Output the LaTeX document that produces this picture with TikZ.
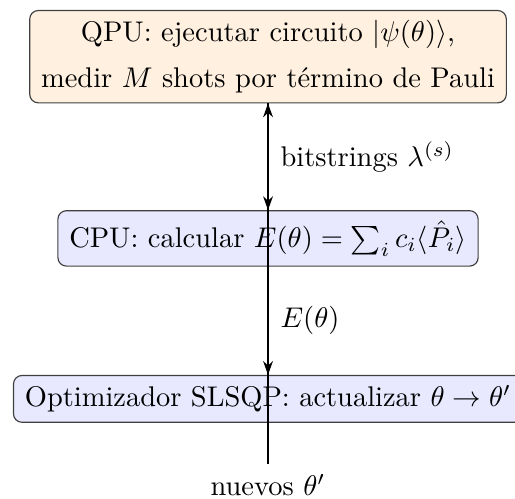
\documentclass[tikz,border=0pt]{standalone}
\usepackage{amsmath}
\usepackage{tikz}
\usetikzlibrary{arrows.meta,positioning}
\tikzset{
  qpubox/.style={draw=black!75, fill=orange!12, rounded corners=3pt, align=center, inner xsep=4pt, inner ysep=3.5pt},
  cpubox/.style={draw=black!75, fill=blue!9, rounded corners=3pt, align=center, inner xsep=4pt, inner ysep=3.5pt},
  flow/.style={-{Stealth[length=1.7mm,width=1.2mm]}, thick},
  lbl/.style={right, inner sep=4pt}
}
\begin{document}
\begin{tikzpicture}
\useasboundingbox (-3.31,0) rectangle (3.05,-6.15);
% ---- bloques ----
\node[qpubox] (qpu) at (0,-0.70) {QPU: ejecutar circuito $|\psi(\theta)\rangle$,\\[4pt] medir $M$ shots por término de Pauli};
\node[cpubox] (cpu) at (0,-2.944) {CPU: calcular $E(\theta)=\sum_i c_i\langle\hat{P}_i\rangle$};
\node[cpubox] (opt) at (0,-4.926) {Optimizador SLSQP: actualizar $\theta\rightarrow\theta'$};
\node (out) at (0,-5.99) {nuevos $\theta'$};
% ---- flechas ----
\draw[flow] (qpu) -- node[lbl] {bitstrings $\lambda^{(s)}$} (cpu);
\draw[flow] (cpu) -- node[lbl] {$E(\theta)$} (opt);
\draw[flow] (out.north) -- (qpu);
\end{tikzpicture}
\end{document}
